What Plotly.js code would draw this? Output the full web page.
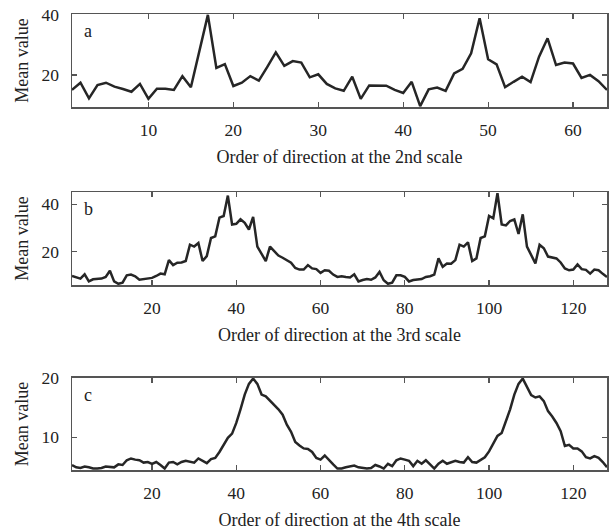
<!DOCTYPE html>
<html>
<head>
<meta charset="utf-8">
<script src="https://cdn.plot.ly/plotly-3.0.1.min.js"></script>
<style>html,body{margin:0;padding:0;background:#fff;}#chart{width:610px;height:530px;}</style>
</head>
<body>
<div id="chart"></div>
<script>
// Panel a: 2nd scale (64 directions)
const meanA = [15,17.4,12.2,16.6,17.4,16.1,15.3,14.4,17,12,
15.4,15.4,15,19.6,15.9,28.3,40,22.3,23.6,16.3,
17.4,19.6,18.1,22.7,27.5,23,24.6,24.1,19.2,20.2,
17,15.5,14.7,19.4,12,16.5,16.5,16.4,15,14,
17.7,9.6,15.2,15.8,14.7,20.5,22,27.2,38.9,25.2,
23.5,15.9,17.7,19.4,17.6,26.1,32.2,23.3,24.1,23.8,
19,20,17.9,15];
// Panel b: 3rd scale (128 directions)
const meanB = [9.7,9.3,8.6,10.4,7.4,8.3,8.3,8.6,9.3,11.9,
7.4,6.4,6.9,10,10.3,9.6,8.1,8.3,8.4,8.9,
9.7,10.7,10.4,16.4,14.3,15.3,15.4,16,22.9,22.1,
23.6,16,18.1,25.7,26.4,34.3,35,43.6,31.4,31.7,
33.6,32.1,29.3,34.6,22.1,19.3,16,22.1,20.3,18.3,
17.4,16.4,15.3,13.1,12.4,12.4,14.3,12.9,12.6,11,
12.1,11.9,10.3,9.3,
9.6,9.3,9.1,10.4,7.4,8,8.4,8.1,9.1,11.4,
7.9,6.4,6.9,10,10,9.3,7.4,8,8.3,8.4,
9.3,9.6,10.3,17.1,13.6,15,14.9,16.4,22.9,22.1,
23.9,16,17.1,25.7,26.4,35,34,44.6,31.4,31,
32.9,33.6,27.4,35.7,22.1,18.6,15,22.9,21.4,17.9,
17.4,17.1,15.4,12.9,12.1,12.4,14.6,12.6,12.3,10.7,
12.4,12.1,10.6,9.3];
// Panel c: 4th scale (128 directions)
const meanC = [5.3,4.9,4.8,5.05,4.9,4.7,4.7,4.8,5.05,5,
4.9,5.4,5.3,6.1,6.4,6.2,6.1,5.7,5.8,5.5,
5.8,5.3,4.7,5.7,5.8,5.4,5.8,6,5.8,5.7,
6.4,6,5.6,6.3,6.5,7.5,8.8,9.9,10.6,12.4,
14.7,17.2,19,19.9,19,17.2,16.9,16.2,15.5,14.7,
13.8,12.1,10.9,9.2,8.6,8.1,8,7.5,6.5,6.2,
6.9,6.1,5.4,4.7,
4.7,4.9,5.05,5.2,4.9,4.8,4.7,4.8,5.3,5.05,
4.7,5.5,5.1,6.1,6.4,6.2,6,5.1,6,5.5,
6.1,5.4,4.7,5.5,6,5.5,5.8,6,5.8,5.7,
6.6,5.8,5.7,6.2,6.6,7.6,9,10.2,10.7,12.7,
14.7,17.2,19,19.9,18.6,17.1,16.7,16.9,16.1,14.4,
13.5,12.4,11,8.5,8.7,8.1,8.1,7.6,6.6,6.4,
6.8,6.5,5.8,4.9];
const xTitles = ["Order of direction at the 2nd scale","Order of direction at the 3rd scale","Order of direction at the 4th scale"];
const yTitle = "Mean value";
const panelLabels = ["a","b","c"];
const xTicksA = [10,20,30,40,50,60];
const xTicksBC = [20,40,60,80,100,120];
const yTicksA = [20,40], yTicksB = [20,40], yTicksC = [10,20];

const idx = n => Array.from({length:n},(_,i)=>i+1);
const lineStyle = {color:'#262626', width:2.5};
const traces = [
  {x: idx(meanA.length), y: meanA, xaxis:'x', yaxis:'y', mode:'lines', line:lineStyle, hoverinfo:'skip'},
  {x: idx(meanB.length), y: meanB, xaxis:'x2', yaxis:'y2', mode:'lines', line:lineStyle, hoverinfo:'skip'},
  {x: idx(meanC.length), y: meanC, xaxis:'x3', yaxis:'y3', mode:'lines', line:lineStyle, hoverinfo:'skip'}
];
const fam = 'Liberation Serif, Times New Roman, DejaVu Serif, serif';
const titleFont = {family:fam, size:18, color:'#222'};
const tickFont = {family:fam, size:17.5, color:'#222'};
const axBase = {showline:true, mirror:'allticks', linecolor:'#555', linewidth:1.5, ticks:'inside', ticklen:5, tickwidth:1.2, tickcolor:'#555', showgrid:false, zeroline:false, tickfont:tickFont};
function xa(range, ticks, title, anchor){return Object.assign({}, axBase, {range:range, tickvals:ticks, anchor:anchor, ticklabelstandoff:6, title:{text:title, font:titleFont, standoff:12}});}
function ya(range, ticks, dom, anchor){return Object.assign({}, axBase, {range:range, tickvals:ticks, domain:dom, anchor:anchor, ticklabelstandoff:8, title:{text:yTitle, font:titleFont, standoff:8}});}
const layout = {
  width:610, height:530, paper_bgcolor:'#fff', plot_bgcolor:'#fff', showlegend:false,
  margin:{l:72, r:3, t:14, b:60}, font:titleFont,
  xaxis: xa([1,64], xTicksA, xTitles[0], 'y'),
  xaxis2: xa([1,128], xTicksBC, xTitles[1], 'y2'),
  xaxis3: xa([1,128], xTicksBC, xTitles[2], 'y3'),
  yaxis: ya([9.3,40.3], yTicksA, [0.796,1], 'x'),
  yaxis2: ya([5.9,45.1], yTicksB, [0.4057,0.6096], 'x2'),
  yaxis3: ya([4.45,20], yTicksC, [0,0.2018], 'x3'),
  annotations: panelLabels.map((t,i)=>({text:t, xref:(i?'x'+(i+1):'x')+' domain', yref:(i?'y'+(i+1):'y')+' domain', x:0.03, y:0.82, xanchor:'center', yanchor:'middle', showarrow:false, font:{family:fam, size:18, color:'#222'}}))
};
Plotly.newPlot('chart', traces, layout, {staticPlot:true, displayModeBar:false});
</script>
</body>
</html>
